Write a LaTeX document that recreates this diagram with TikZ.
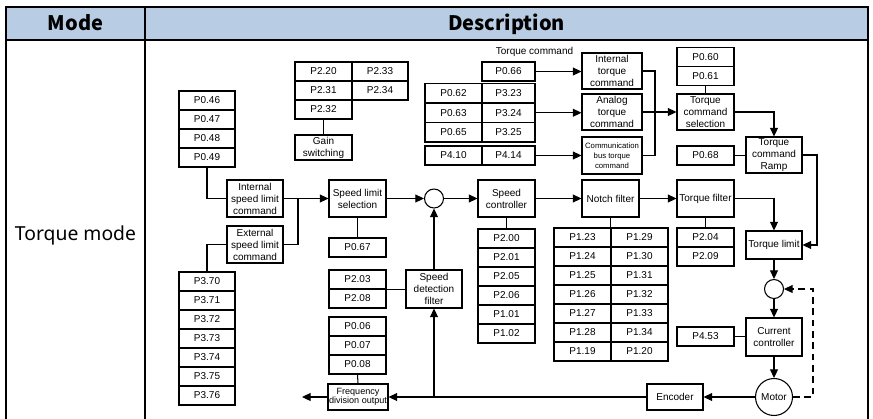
\documentclass[tikz,border=0pt]{standalone}
\usepackage{fontspec}
\setmainfont{Liberation Sans}
\newfontfamily\hdrfont{Noto Sans}
\newfontfamily\hdrbold{Noto Sans CJK SC}
\usetikzlibrary{arrows.meta}
\definecolor{hdrblue}{HTML}{B8CCE4}

% box by corners: [extra style]{name}{x1}{y1}{x2}{y2}{text}
\newcommand\bx[7][]{%
  \node[blk,#1,minimum width={(#5-#3)*0.75pt},minimum height={(#6-#4)*0.75pt}]
    (#2) at ({(#3+#5)/2},{(#4+#6)/2}) {#7};}

\begin{document}
\begin{tikzpicture}[x=0.75pt,y=-0.75pt,
  blk/.style={draw,line width=0.8pt,inner sep=0pt,align=center,
    font=\fontsize{7.5}{9}\selectfont},
  small/.style={font=\fontsize{5.8}{7.4}\selectfont},
  tight/.style={font=\fontsize{6.8}{6.4}\selectfont},
  sumc/.style={draw,circle,line width=0.8pt,inner sep=0pt,minimum size=19*0.75pt},
  motorc/.style={draw,circle,line width=0.8pt,inner sep=0pt,minimum size=37*0.75pt,
    font=\fontsize{7.5}{9}\selectfont},
  lbl/.style={inner sep=0pt,font=\fontsize{7.5}{9}\selectfont},
  conn/.style={line width=0.8pt},
  arr/.style={conn,-{Triangle[length=6.5pt,width=6pt]}},
  tbl/.style={line width=1.5pt},
  hdr/.style={inner sep=0pt,anchor=base,font=\hdrbold\bfseries\fontsize{15}{17}\selectfont},
  mode/.style={inner sep=0pt,anchor=base,font=\hdrfont\fontsize{14.5}{16}\selectfont}]

\fill[white] (0,0) rectangle (873,418);
\useasboundingbox (0,0) rectangle (873,418);

% table frame
\fill[hdrblue] (6,7) rectangle (868,40);
\draw[tbl] (6,425) -- (6,7) -- (868,7) -- (868,425);
\draw[tbl] (6,40) -- (868,40);
\draw[tbl] (145,7) -- (145,425);
\node[hdr] (hmode) at (75.5,30.5) {Mode};
\node[hdr] (hdesc) at (506.5,30.5) {Description};
\node[mode] (tmode) at (75.5,240.5) {Torque mode};

% speed limit parameters
\bx{p046}{179}{91}{235}{110}{P0.46}
\bx{p047}{179}{110}{235}{129}{P0.47}
\bx{p048}{179}{129}{235}{148}{P0.48}
\bx{p049}{179}{148}{235}{167}{P0.49}
\bx{isl}{227}{180}{283}{217}{Internal\\speed limit\\command}
\bx{esl}{227}{226}{283}{263}{External\\speed limit\\command}
\bx{p370}{179}{272}{235}{291}{P3.70}
\bx{p371}{179}{291}{235}{310}{P3.71}
\bx{p372}{179}{310}{235}{329}{P3.72}
\bx{p373}{179}{329}{235}{348}{P3.73}
\bx{p374}{179}{348}{235}{367}{P3.74}
\bx{p375}{179}{367}{235}{386}{P3.75}
\bx{p376}{179}{386}{235}{405}{P3.76}

% speed limit selection column
\bx{sls}{329}{180}{386}{217}{Speed limit\\selection}
\bx{p067}{329}{238}{386}{257}{P0.67}
\bx{p203}{329}{270}{386}{289}{P2.03}
\bx{p208}{329}{289}{386}{308}{P2.08}
\bx{p006}{329}{317}{386}{336}{P0.06}
\bx{p007}{329}{336}{386}{355}{P0.07}
\bx{p008}{329}{355}{386}{374}{P0.08}
\bx[tight]{freq}{328}{384}{388}{410}{Frequency\\division output}

% gain switching
\bx{p220}{295}{62}{352}{81}{P2.20}
\bx{p233}{352}{62}{408}{81}{P2.33}
\bx{p231}{295}{81}{352}{100}{P2.31}
\bx{p234}{352}{81}{408}{100}{P2.34}
\bx{p232}{295}{100}{352}{119}{P2.32}
\bx{gain}{295}{135}{352}{160}{Gain\\switching}

% speed loop
\node[sumc] (s1) at (434,198.5) {};
\bx{sdf}{406}{270}{462}{308}{Speed\\detection\\filter}
\bx{spc}{478}{180}{535}{217}{Speed\\controller}
\bx{p200}{478}{229}{535}{248}{P2.00}
\bx{p201}{478}{248}{535}{267}{P2.01}
\bx{p205}{478}{267}{535}{286}{P2.05}
\bx{p206}{478}{286}{535}{305}{P2.06}
\bx{p101}{478}{305}{535}{324}{P1.01}
\bx{p102}{478}{324}{535}{343}{P1.02}

% torque command sources
\node[lbl] (tcl) at (534.5,51.5) {Torque command};
\bx{p066}{482}{62}{535}{81}{P0.66}
\bx{p062}{425}{83.5}{482}{103}{P0.62}
\bx{p323}{482}{83.5}{535}{103}{P3.23}
\bx{p063}{425}{103}{482}{122.5}{P0.63}
\bx{p324}{482}{103}{535}{122.5}{P3.24}
\bx{p065}{425}{122.5}{482}{142}{P0.65}
\bx{p325}{482}{122.5}{535}{142}{P3.25}
\bx{p410}{425}{146}{482}{165}{P4.10}
\bx{p414}{482}{146}{535}{165}{P4.14}
\bx{itc}{582}{53}{642}{89}{Internal\\torque\\command}
\bx{atc}{582}{94}{642}{130}{Analog\\torque\\command}
\bx[small]{ctc}{582}{137}{642}{174}{Communication\\bus torque\\command}

% notch filter
\bx{notch}{582}{180}{639}{217}{Notch filter}
\bx{p123}{554}{228}{611}{247}{P1.23}
\bx{p129}{611}{228}{668}{247}{P1.29}
\bx{p124}{554}{247}{611}{266}{P1.24}
\bx{p130}{611}{247}{668}{266}{P1.30}
\bx{p125}{554}{266}{611}{285}{P1.25}
\bx{p131}{611}{266}{668}{285}{P1.31}
\bx{p126}{554}{285}{611}{304}{P1.26}
\bx{p132}{611}{285}{668}{304}{P1.32}
\bx{p127}{554}{304}{611}{323}{P1.27}
\bx{p133}{611}{304}{668}{323}{P1.33}
\bx{p128}{554}{323}{611}{342}{P1.28}
\bx{p134}{611}{323}{668}{342}{P1.34}
\bx{p119}{554}{342}{611}{361}{P1.19}
\bx{p120}{611}{342}{668}{361}{P1.20}

% torque path
\bx{p060}{677}{47.5}{734}{66.5}{P0.60}
\bx{p061}{677}{66.5}{734}{85.5}{P0.61}
\bx{tsel}{677}{94}{734}{130}{Torque\\command\\selection}
\bx{p068}{677}{146}{734}{165}{P0.68}
\bx{ramp}{746}{137}{802}{173}{Torque\\command\\Ramp}
\bx{tfilt}{677}{180}{734}{217}{Torque filter}
\bx{p204}{677}{228}{734}{247}{P2.04}
\bx{p209}{677}{247}{734}{266}{P2.09}
\bx{tlim}{746}{231}{802}{259}{Torque limit}
\node[sumc] (s2) at (774,289) {};
\bx{cc}{746}{318}{802}{356}{Current\\controller}
\bx{p453}{677}{327}{734}{346}{P4.53}
\node[motorc] (motor) at (774,397) {Motor};
\bx{enc}{647}{384}{703}{410}{Encoder}

% junction points
\coordinate (jsl) at (298,198.5);
\coordinate (jtc) at (655,112);
\coordinate (jrl) at (817,245);
\coordinate (jdash) at (813,289);
\coordinate (fout) at (302,397);

% speed limit connections
\draw[conn] (p049.south) |- (isl.west);
\draw[conn] (esl.west) -| (p370.north);
\draw[arr] (isl.east) -- (sls.west);
\draw[conn] (esl.east) -| (jsl);
\draw[conn] (sls.south) -- (p067.north);
\draw[conn] (p232.south) -- (gain.north);

% speed loop connections
\draw[arr] (sls.east) -- (s1.west);
\draw[arr] (s1.east) -- (spc.west);
\draw[conn] (spc.south) -- (p200.north);
\draw[arr] (spc.east) -- (notch.west);
\draw[conn] (notch.south) -- (notch.south |- p123.north);
\draw[arr] (notch.east) -- (tfilt.west);
\draw[conn] (tfilt.south) -- (p204.north);
\draw[arr] (tfilt.east) -| (tlim.north);
\draw[arr] (sdf.north) -- (s1.south);
\draw[conn] (p203.south east) -- (p203.south east -| sdf.west);

% torque command connections
\draw[arr] (p066.east) -- (p066.east -| itc.west);
\draw[arr] (p324.east) -- (p324.east -| atc.west);
\draw[arr] (p414.east) -- (p414.east -| ctc.west);
\draw[conn] (itc.east) -| (jtc);
\draw[conn] (ctc.east) -| (jtc);
\draw[arr] (atc.east) -- (tsel.west);
\draw[conn] (p061.south) -- (tsel.north);
\draw[arr] (tsel.east) -| (ramp.north);
\draw[conn] (p068.east) -- (p068.east -| ramp.west);
\draw[arr] (ramp.east) -| (jrl) -- (tlim.east);

% current loop and feedback
\draw[arr] (tlim.south) -- (s2.north);
\draw[arr] (s2.south) -- (cc.north);
\draw[conn] (p453.east) -- (p453.east -| cc.west);
\draw[arr] (cc.south) -- (motor.north);
\draw[arr,dashed,dash pattern=on 5pt off 3.5pt] (motor.east) -| (jdash) -- (s2.east);
\draw[arr] (motor.west) -- (enc.east);
\draw[arr] (enc.west) -- (freq.east);
\draw[arr] (sdf.south |- enc.west) -- (sdf.south);
\draw[conn] (p008.south) -- (freq.north);
\draw[arr] (freq.west) -- (fout);
\end{tikzpicture}
\end{document}
